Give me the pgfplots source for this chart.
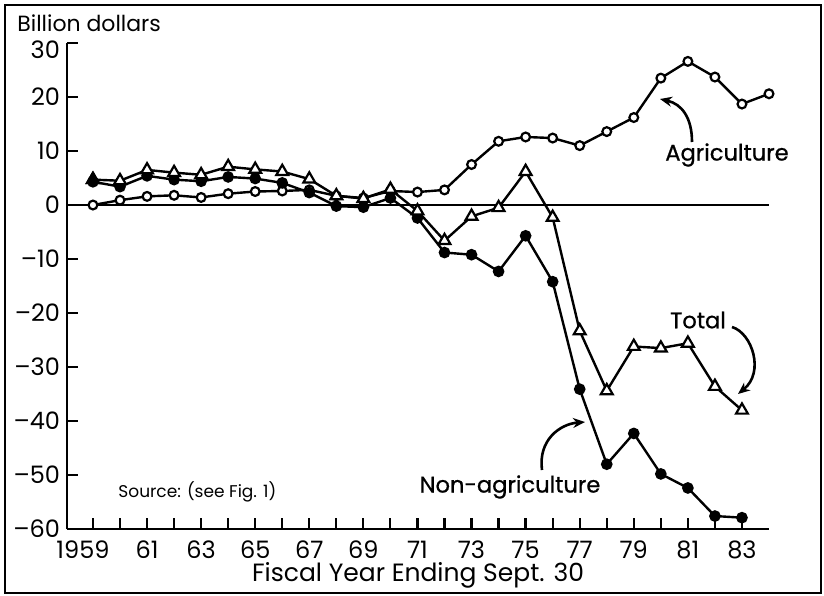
\documentclass[border=0pt]{standalone}
\usepackage{pgfplots}
\pgfplotsset{compat=1.18}
\usepackage{fontspec}
\setmainfont{Poppins}
\newfontfamily\labfont{Poppins}[FakeBold=0.8]
\usetikzlibrary{arrows.meta}
\begin{document}
\begin{tikzpicture}
\begin{axis}[
  at={(33.5pt,-264.5pt)}, anchor=south west,
  width=351pt, height=243pt, scale only axis,
  xmin=1958.04, xmax=1984, ymin=-60, ymax=30,
  clip=false,
  axis lines=left,
  axis line style={-, line width=1.4pt},
  tick align=inside,
  major tick length=5.5pt,
  tick style={line width=1.1pt, black},
  xtick={1959,...,1983},
  xticklabels={{\hspace*{-10pt}1959},,61,,63,,65,,67,,69,,71,,73,,75,,77,,79,,81,,83},
  ytick={-60,-50,...,30},
  yticklabels={–60,–50,–40,–30,–20,–10,0,10,20,\raisebox{-3.5pt}[\height][0pt]{30}},
  ticklabel style={font=\fontsize{12}{14}\selectfont},
  xticklabel style={yshift=-2.5pt},
  yticklabel style={xshift=0pt},
  xlabel={Fiscal Year Ending Sept. 30},
  xlabel style={font=\fontsize{12.5}{14}\selectfont, yshift=5pt},
]
\addplot[line width=0.7pt, no marks] coordinates {(1958.04,0) (1984,0)};
% Agriculture
\addplot[line width=1.2pt, mark=*, mark size=2.2pt, mark options={fill=white, line width=1.1pt}] coordinates {
(1959,0.0) (1960,0.9) (1961,1.6) (1962,1.8) (1963,1.4) (1964,2.1) (1965,2.5) (1966,2.6)
(1967,2.8) (1968,1.7) (1969,1.3) (1970,2.6) (1971,2.4) (1972,2.8) (1973,7.5) (1974,11.8)
(1975,12.6) (1976,12.4) (1977,11.0) (1978,13.6) (1979,16.2) (1980,23.5) (1981,26.6)
(1982,23.7) (1983,18.7) (1984,20.6)};
% Non-agriculture
\addplot[line width=1.2pt, mark=*, mark size=2.3pt, mark options={fill=black}] coordinates {
(1959,4.3) (1960,3.4) (1961,5.4) (1962,4.7) (1963,4.4) (1964,5.2) (1965,4.9) (1966,4.1)
(1967,2.3) (1968,-0.2) (1969,-0.4) (1970,1.3) (1971,-2.4) (1972,-8.8) (1973,-9.2)
(1974,-12.3) (1975,-5.7) (1976,-14.2) (1977,-34.1) (1978,-48.0) (1979,-42.3) (1980,-49.8)
(1981,-52.4) (1982,-57.6) (1983,-57.9)};
% Total
\addplot[line width=1.2pt, mark=triangle*, mark size=3.4pt, mark options={fill=white, line width=1.1pt}] coordinates {
(1959,4.7) (1960,4.5) (1961,6.5) (1962,6.0) (1963,5.6) (1964,7.1) (1965,6.6) (1966,6.2)
(1967,4.8) (1968,1.7) (1969,1.2) (1970,2.9) (1971,-1.1) (1972,-6.6) (1973,-2.1)
(1974,-0.5) (1975,6.2) (1976,-2.3) (1977,-23.3) (1978,-34.4) (1979,-26.2) (1980,-26.5)
(1981,-25.6) (1982,-33.6) (1983,-38.0)};
\addplot[only marks, mark=triangle*, mark size=3.4pt, mark options={fill=black, line width=1.1pt}] coordinates {(1959,4.7)};
\end{axis}
\begin{scope}[x=0.5pt, y=-0.5pt]
\path (0,0) rectangle (824,595);
\draw[line width=1.3pt] (5,5) rectangle (821,593);
\node[anchor=base west, inner sep=0pt, font=\fontsize{11}{13}\selectfont] at (17,32) {Billion dollars};
\node[font=\fontsize{11.3}{13}\selectfont\labfont] at (727,155) {Agriculture};
\node[font=\fontsize{11.3}{13}\selectfont\labfont] at (698,320) {Total};
\node[font=\fontsize{11.3}{13}\selectfont\labfont] at (510,487) {Non-agriculture};
\node[anchor=west, inner sep=0pt, font=\fontsize{8.5}{10}\selectfont] at (118,492) {Source: (see Fig. 1)};
\draw[line width=1.3pt, -{Stealth[length=6pt, width=5pt]}] (692,142) .. controls (692,118) and (682,104) .. (660,99);
\draw[line width=1.3pt, -{Stealth[length=6pt, width=5pt]}] (732,327) .. controls (752,333) and (765,372) .. (738,394);
\draw[line width=1.3pt, -{Stealth[length=6pt, width=5pt]}] (542,470) .. controls (538,440) and (560,424) .. (585,422);
\end{scope}
\end{tikzpicture}
\end{document}
